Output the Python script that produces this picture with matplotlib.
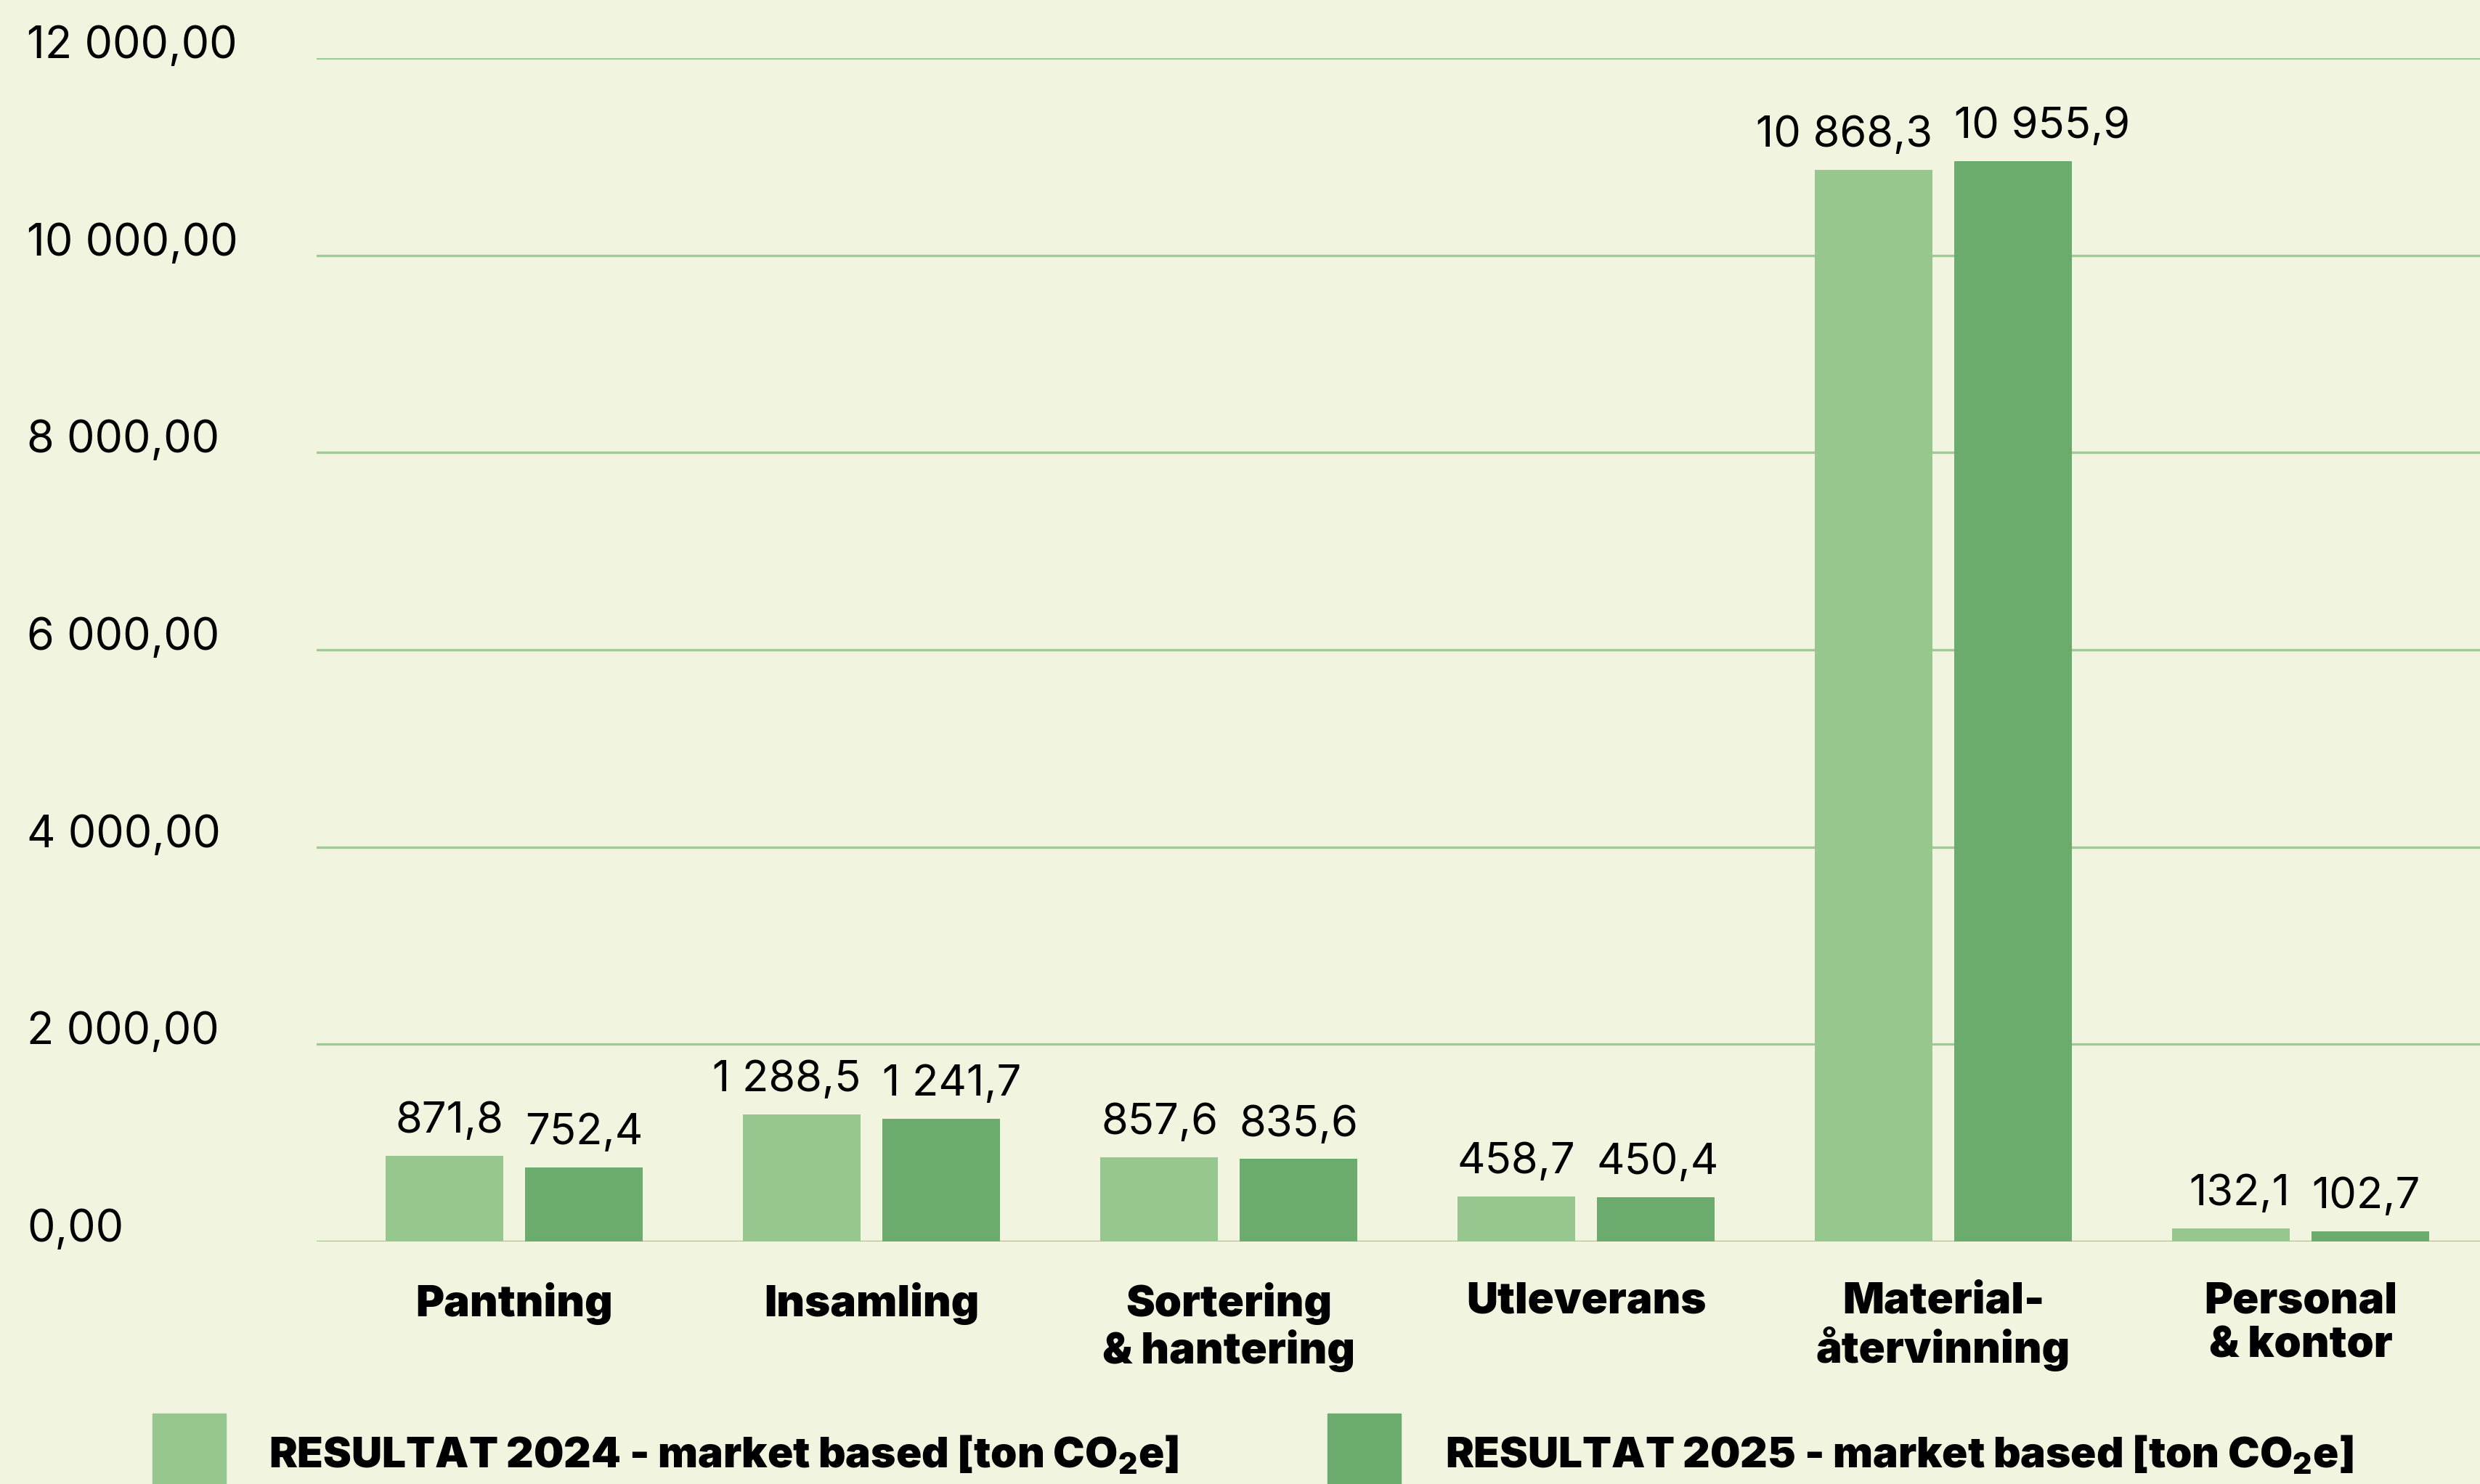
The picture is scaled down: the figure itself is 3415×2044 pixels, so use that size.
import matplotlib
matplotlib.use("Agg")
import matplotlib.pyplot as plt
from matplotlib.patches import Rectangle
import numpy as np

# data
categories = ["Pantning", "Insamling", "Sortering\n& hantering", "Utleverans",
              "Material-\nåtervinning", "Personal\n& kontor"]
result_2024 = [871.8, 1288.5, 857.6, 458.7, 10868.3, 132.1]
result_2025 = [752.4, 1241.7, 835.6, 450.4, 10955.9, 102.7]
series_names = ["RESULTAT 2024 - market based [ton CO$_2$e]",
                "RESULTAT 2025 - market based [ton CO$_2$e]"]
y_ticks = [0, 2000, 4000, 6000, 8000, 10000, 12000]

BG = "#F1F5DF"
LIGHT = "#97C78F"
DARK = "#6BAC6E"
GRID = "#9DCB94"
FONT = ["Inter", "DejaVu Sans"]

plt.rcParams["font.family"] = FONT
plt.rcParams["mathtext.fontset"] = "custom"
plt.rcParams["mathtext.rm"] = "Inter:black"
plt.rcParams["mathtext.default"] = "rm"


def sv(v, decimals):
    # swedish number format: space as thousands separator, comma as decimal
    return f"{v:,.{decimals}f}".replace(",", " ").replace(".", ",")


W, H = 3415, 2044
fig = plt.figure(figsize=(W / 100, H / 100), dpi=100, facecolor=BG)
ax = fig.add_axes([436 / W, 1 - 1710 / H, 1 - 436 / W, (1710 - 80) / H])
ax.set_facecolor(BG)

x = np.arange(len(categories))
width = 0.33
off = 0.195
b1 = ax.bar(x - off, result_2024, width, color=LIGHT, zorder=3)
b2 = ax.bar(x + off, result_2025, width, color=DARK, zorder=3)

# value labels: 2024 flush with bar's right edge, 2025 flush with left edge
for rect, v in zip(b1, result_2024):
    ax.annotate(sv(v, 1), (rect.get_x() + rect.get_width(), v),
                xytext=(0, 23), textcoords="offset points",
                ha="right", va="baseline", fontsize=43, color="black")
for rect, v in zip(b2, result_2025):
    ax.annotate(sv(v, 1), (rect.get_x(), v),
                xytext=(0, 23), textcoords="offset points",
                ha="left", va="baseline", fontsize=43, color="black")

ax.set_xlim(-0.553, 5.502)
ax.set_ylim(0, 12000)
ax.set_yticks(y_ticks)
ax.set_yticklabels([sv(t, 2) for t in y_ticks])
ax.yaxis.grid(True, color=GRID, linewidth=2.4, zorder=0)
ax.set_axisbelow(True)
for lab in ax.get_yticklabels():
    lab.set_horizontalalignment("left")
    lab.set_verticalalignment("baseline")
ax.tick_params(axis="y", length=0, pad=287, labelsize=44)

ax.set_xticks(x)
ax.set_xticklabels(categories, fontsize=43, fontweight="black", linespacing=1.13)
ax.tick_params(axis="x", length=0, pad=40)

for s in ax.spines.values():
    s.set_visible(False)

# legend drawn by hand, swatches run off the bottom edge like the original
for (px, tx), col, name in zip([(210, 370), (1828, 1990)], [LIGHT, DARK], series_names):
    fig.patches.append(Rectangle((px / W, -0.02), 101 / W, 0.02 + 97 / H,
                                 transform=fig.transFigure, color=col))
    fig.text(tx / W, (H - 2021) / H, name, fontsize=42, fontweight="black",
             ha="left", va="baseline")

fig.savefig("out.png", dpi=100, facecolor=BG)
